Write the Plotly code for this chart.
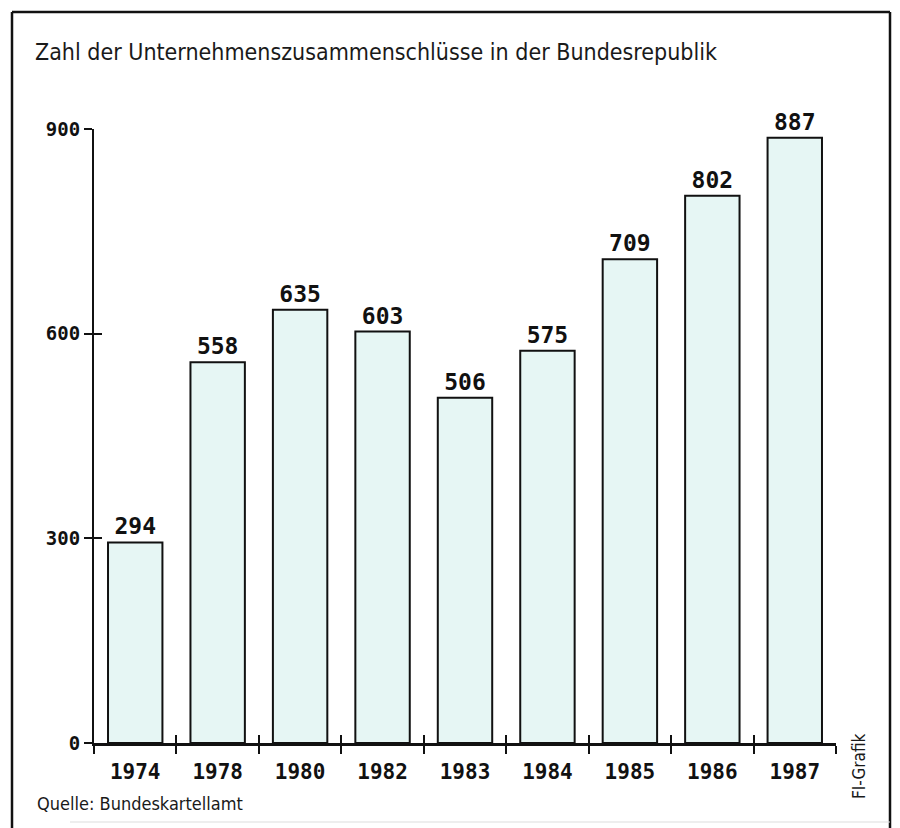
import plotly.graph_objects as go

years = ["1974", "1978", "1980", "1982", "1983", "1984", "1985", "1986", "1987"]
mergers = [294, 558, 635, 603, 506, 575, 709, 802, 887]
y_ticks = [0, 300, 600, 900]
title_text = "Zahl der Unternehmenszusammenschlüsse in der Bundesrepublik"
source_text = "Quelle: Bundeskartellamt"
credit_text = "FI-Grafik"

W, H = 900, 828
OFF = 8  # page body margin offset of the rendered figure
# target page pixel positions of the plot area
PL, PR, PT, PB = 94, 836, 129, 743
ML, MR, MT, MB = PL - OFF, W - (PR - OFF), PT - OFF, H - (PB - OFF)
PW, PH = W - ML - MR, H - MT - MB


def px_x(p):
    return (p - OFF - ML) / PW


def px_y(p):
    return (H - MB - (p - OFF)) / PH


narrow = "DejaVu Sans Condensed, DejaVu Sans, Liberation Sans, sans-serif"
mono = "DejaVu Sans Mono, Liberation Mono, monospace"

fig = go.Figure()
fig.add_trace(go.Bar(
    x=years, y=mergers, width=0.66,
    marker=dict(color="#e6f6f4", line=dict(color="#111111", width=2)),
    text=[str(v) for v in mergers], textposition="outside",
    textfont=dict(family=mono, size=23, color="#111111", weight="bold"),
    cliponaxis=False, showlegend=False, hoverinfo="skip",
))
# overlay axes carrying the inward half of the crossing tick marks
fig.add_trace(go.Scatter(x=[None], y=[None], xaxis="x2", yaxis="y2",
                         showlegend=False, hoverinfo="skip"))

n = len(years)
fig.update_layout(
    width=W, height=H,
    margin=dict(l=ML, r=MR, t=MT, b=MB),
    paper_bgcolor="white", plot_bgcolor="white",
    title=dict(text=title_text, x=(35 - OFF) / W, xanchor="left", xref="container",
               y=1 - (52 - OFF) / H, yanchor="middle",
               font=dict(family=narrow, size=23, color="#1a1a1a")),
    xaxis=dict(type="category", range=[-0.5, n - 0.5], showline=True, linecolor="#111111",
               linewidth=3, ticks="outside", tickson="boundaries", ticklen=8, tickwidth=2,
               tickcolor="#111111", showgrid=False, zeroline=False, ticklabelstandoff=8,
               tickfont=dict(family=mono, size=21, color="#111111", weight="bold")),
    yaxis=dict(range=[0, 900], tickvals=y_ticks, ticktext=[str(v) for v in y_ticks],
               showline=True, linecolor="#111111", linewidth=2, ticks="outside",
               ticklen=8, tickwidth=2, tickcolor="#111111", showgrid=False, zeroline=False,
               tickfont=dict(family=mono, size=19, color="#111111", weight="bold")),
    xaxis2=dict(overlaying="x", range=[-0.5, n - 0.5],
                tickvals=[i - 0.5 for i in range(n + 1)], ticks="inside", ticklen=8,
                tickwidth=2, tickcolor="#111111", showticklabels=False, showgrid=False,
                zeroline=False, showline=False),
    yaxis2=dict(overlaying="y", range=[0, 900], tickvals=y_ticks, ticks="inside",
                ticklen=8, tickwidth=2, tickcolor="#111111", showticklabels=False,
                showgrid=False, zeroline=False, showline=False),
    annotations=[
        dict(text=source_text, xref="paper", yref="paper", x=px_x(35), y=px_y(803),
             xanchor="left", yanchor="middle", showarrow=False,
             font=dict(family=narrow, size=18, color="#1a1a1a")),
        dict(text=credit_text, xref="paper", yref="paper", x=px_x(859), y=px_y(766),
             xanchor="center", yanchor="middle", textangle=-90, showarrow=False,
             font=dict(family=narrow, size=17, color="#1a1a1a")),
    ],
    shapes=[
        dict(type="line", xref="paper", yref="paper", x0=px_x(12), x1=px_x(12),
             y0=px_y(12), y1=px_y(830), line=dict(color="#111111", width=2.5)),
        dict(type="line", xref="paper", yref="paper", x0=px_x(12), x1=px_x(890),
             y0=px_y(12), y1=px_y(12), line=dict(color="#111111", width=2.5)),
        dict(type="line", xref="paper", yref="paper", x0=px_x(890), x1=px_x(890),
             y0=px_y(12), y1=px_y(830), line=dict(color="#111111", width=2.5)),
        dict(type="line", xref="paper", yref="paper", x0=px_x(70), x1=px_x(890),
             y0=px_y(822), y1=px_y(822), line=dict(color="#dddddd", width=1)),
    ],
)

fig.write_html("out.html")
